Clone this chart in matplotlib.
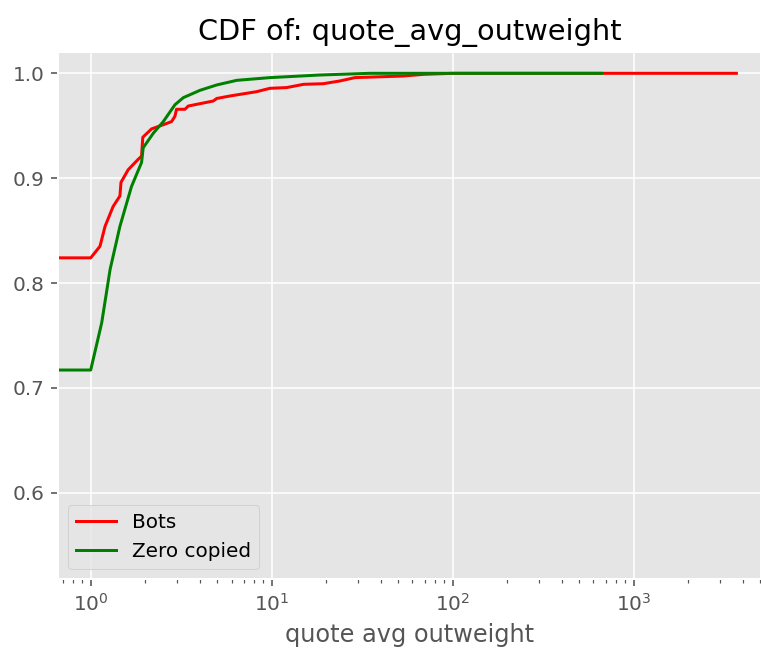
import matplotlib
matplotlib.use("Agg")
import matplotlib.pyplot as plt

plt.style.use("ggplot")

bots_x = [0.3, 1.0, 1.125, 1.2, 1.33, 1.45, 1.47, 1.61, 1.83, 1.91, 1.94, 2.17, 2.52,
          2.80, 2.92, 2.98, 3.32, 3.46, 4.76, 4.97, 5.89, 8.26, 9.78, 12.1, 15.0, 19.3,
          23.8, 28.9, 53.3, 68.8, 100, 3700]
bots_y = [0.824, 0.824, 0.835, 0.854, 0.873, 0.883, 0.896, 0.908, 0.918, 0.921, 0.939,
          0.947, 0.951, 0.954, 0.959, 0.9657, 0.9657, 0.9688, 0.9736, 0.976, 0.9784,
          0.9825, 0.9857, 0.9864, 0.9895, 0.9901, 0.9927, 0.9959, 0.9974, 0.999, 1.0, 1.0]

zero_x = [0.3, 1.0, 1.15, 1.28, 1.45, 1.68, 1.91, 1.95, 2.22, 2.52, 2.92, 3.25, 4.02,
          4.97, 6.41, 9.78, 18.5, 34.9, 665]
zero_y = [0.717, 0.717, 0.762, 0.813, 0.854, 0.892, 0.915, 0.929, 0.943, 0.954, 0.970,
          0.9768, 0.9838, 0.9889, 0.9933, 0.9959, 0.9984, 1.0, 1.0]

labels = ["Bots", "Zero copied"]
title = "CDF of: quote_avg_outweight"
xlabel = "quote avg outweight"

dpi = 144
fig = plt.figure(figsize=(761 / dpi, 658 / dpi), dpi=dpi)
ax = fig.add_axes([0.0766, 0.1196, 0.9234, 0.8018])

ax.plot(bots_x, bots_y, color="red", linewidth=1.5, label=labels[0])
ax.plot(zero_x, zero_y, color="green", linewidth=1.5, label=labels[1])

ax.set_xscale("log")
ax.set_xlim(0.662, 5060)
ax.set_ylim(0.5174, 1.0206)
ax.set_yticks([0.6, 0.7, 0.8, 0.9, 1.0])
ax.set_title(title)
ax.set_xlabel(xlabel)
ax.legend(loc="lower left")

fig.savefig("out.png", dpi=dpi)
